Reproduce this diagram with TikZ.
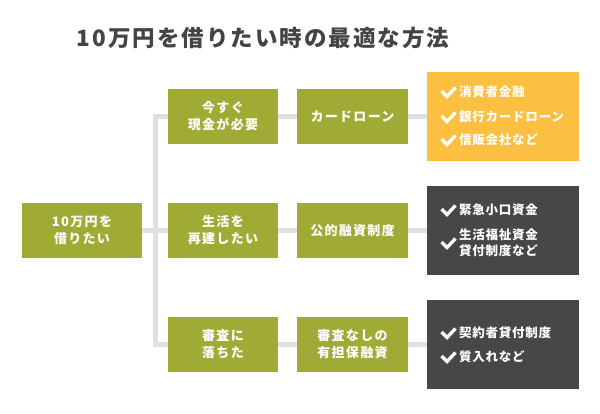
\documentclass[tikz,border=0pt]{standalone}
\usepackage{fontspec}
\setmainfont{Noto Sans CJK JP}
\definecolor{boxgreen}{HTML}{A0AB35}
\definecolor{boxyellow}{HTML}{FBBF41}
\definecolor{boxdark}{HTML}{474747}
\definecolor{linegray}{HTML}{E0E0E0}
\definecolor{titlegray}{HTML}{444444}
\newcommand\drawcheck[1]{\draw[chkline] ([shift={(-17.5,-1)}]#1.west) -- ++(5.5,5.5) -- ++(8.5,-9);}
\begin{document}
\begin{tikzpicture}[x=1pt,y=-1pt,
  gbox/.style={fill=boxgreen, text=white, align=center, inner sep=0pt,
    minimum width=#1, minimum height=55pt,
    font=\fontsize{13}{17}\selectfont\bfseries\addfontfeatures{LetterSpace=10}},
  gbox/.default=110pt,
  lbox/.style={fill=#1, minimum width=152pt, minimum height=89pt, inner sep=0pt},
  item/.style={text=white, anchor=west, inner sep=0pt, align=left,
    font=\fontsize{12.5}{16}\selectfont\bfseries\addfontfeatures{LetterSpace=6}},
  chkline/.style={draw=white, line width=3.3pt, line join=miter, line cap=butt},
  conn/.style={draw=linegray, line width=5pt, line join=miter}
]
\useasboundingbox[fill=white] (0,0) rectangle (600,413);

\node[text=titlegray, font=\fontsize{22.5}{22.5}\selectfont\bfseries\addfontfeatures{LetterSpace=9}] (title) at (263,38) {10万円を借りたい時の最適な方法};

\node[gbox=120pt] (root) at (82,230.5) {10万円を\\借りたい};

\node[gbox] (m1) at (223,116.5) {今すぐ\\現金が必要};
\node[gbox] (m2) at (223,230.5) {生活を\\再建したい};
\node[gbox] (m3) at (223,344.5) {審査に\\落ちた};

\node[gbox=111pt] (r1) at (352.5,116.5) {カードローン};
\node[gbox=111pt] (r2) at (352.5,230.5) {公的融資制度};
\node[gbox=111pt] (r3) at (352.5,344.5) {審査なしの\\有担保融資};

\node[lbox=boxyellow] (l1) at (503,116.5) {};
\node[lbox=boxdark] (l2) at (503,230.5) {};
\node[lbox=boxdark] (l3) at (503,344.5) {};

\coordinate (t1) at (155,116.5);
\coordinate (t2) at (155,230.5);
\coordinate (t3) at (155,344.5);

\draw[conn] (m1.west) -- (t1) -- (t3) -- (m3.west);
\draw[conn] (root.east) -- (m2.west);
\draw[conn] (m1.east) -- (r1.west);
\draw[conn] (m2.east) -- (r2.west);
\draw[conn] (m3.east) -- (r3.west);
\draw[conn] (r1.east) -- (l1.west);
\draw[conn] (r2.east) -- (l2.west);
\draw[conn] (r3.east) -- (l3.west);

% list 1
\node[item] (i11) at (459,92) {消費者金融};
\node[item] (i12) at (459,117) {銀行カードローン};
\node[item] (i13) at (459,140) {信販会社など};
% list 2
\node[item] (i21) at (459,210) {緊急小口資金};
\node[item] (i22) at (459,243) {生活福祉資金\\貸付制度など};
% list 3
\node[item] (i31) at (459,333) {契約者貸付制度};
\node[item] (i32) at (459,357) {質入れなど};

\drawcheck{i11}
\drawcheck{i12}
\drawcheck{i13}
\drawcheck{i21}
\drawcheck{i22}
\drawcheck{i31}
\drawcheck{i32}
\end{tikzpicture}
\end{document}
